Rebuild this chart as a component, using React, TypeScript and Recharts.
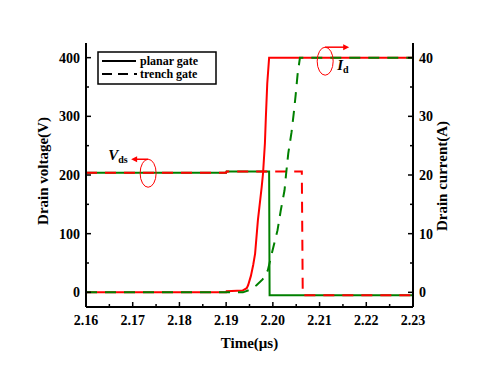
import React from 'react';
import { ComposedChart, Line, XAxis, YAxis, ReferenceDot, Label } from 'recharts';

const FONT = '"Liberation Serif", "Times New Roman", serif';
const RED = '#ff0000';
const GREEN = '#008000';

// Tick values
const xMajorTicks = [2.16, 2.17, 2.18, 2.19, 2.2, 2.21, 2.22, 2.23];
const xMinorTicks = [2.165, 2.175, 2.185, 2.195, 2.205, 2.215, 2.225];
const vMajorTicks = [0, 100, 200, 300, 400];
const vMinorTicks = [50, 150, 250, 350];
const iMajorTicks = [0, 10, 20, 30, 40];
const iMinorTicks = [5, 15, 25, 35];

// Series names
const legendNames = ['planar gate', 'trench gate'];

// Drain voltage, planar gate (V)
const vdsPlanarT = [2.16, 2.19, 2.1901, 2.1992, 2.1993, 2.23];
const vdsPlanarV = [204, 204, 206, 206, -5, -5];
// Drain voltage, trench gate (V)
const vdsTrenchT = [2.16, 2.19, 2.1901, 2.2062, 2.2064, 2.23];
const vdsTrenchV = [204, 204, 206, 206, -5, -5];
// Drain current, planar gate (A)
const idPlanarT = [2.16, 2.19, 2.1901, 2.1935, 2.1944, 2.1947, 2.1953, 2.1958, 2.1962, 2.1968, 2.1976, 2.1979, 2.1983, 2.1985, 2.1988, 2.1992, 2.23];
const idPlanarA = [0, 0, 0.2, 0.3, 0.7, 1.2, 2.8, 4.7, 6.6, 12.3, 17.9, 20.3, 25.4, 29.8, 35.6, 40, 40];
// Drain current, trench gate (A)
const idTrenchT = [2.16, 2.19, 2.1936, 2.195, 2.1965, 2.1978, 2.1989, 2.2001, 2.201, 2.2017, 2.2025, 2.2028, 2.2033, 2.204, 2.2045, 2.2049, 2.2053, 2.2058, 2.23];
const idTrenchA = [0, 0, 0, 0.4, 1.2, 2.2, 3.7, 7.7, 10.6, 14.0, 17.4, 19.9, 23.7, 27.3, 30.7, 33.8, 37.2, 40, 40];

// Annotation anchors
const vdsMarkT = 2.1733;
const vdsMarkV = 203;
const idMarkT = 2.2112;
const idMarkA = 39.4;

const zip = (ts: number[], ys: number[]) => ts.map((t, i) => ({ t, y: ys[i] }));
const vdsPlanar = zip(vdsPlanarT, vdsPlanarV);
const vdsTrench = zip(vdsTrenchT, vdsTrenchV);
const idPlanar = zip(idPlanarT, idPlanarA);
const idTrench = zip(idTrenchT, idTrenchA);

const isIn = (arr: number[], v: number) => arr.some((m) => Math.abs(m - v) < 1e-6);

const tickText = { fontFamily: FONT, fontWeight: 'bold' as const, fontSize: 14, fill: '#000' };

const XTick = (props: any) => {
  const { x, y, payload } = props;
  const v = payload.value;
  const major = isIn(xMajorTicks, v);
  return (
    <g>
      <line x1={x} y1={y} x2={x} y2={y - (major ? 5 : 3)} stroke="#000" strokeWidth={1.5} />
      {major && (
        <text x={x} y={y + 18} textAnchor="middle" {...tickText}>
          {v.toFixed(2)}
        </text>
      )}
    </g>
  );
};

const LeftTick = (props: any) => {
  const { x, y, payload } = props;
  const v = payload.value;
  const major = isIn(vMajorTicks, v);
  return (
    <g>
      <line x1={x} y1={y} x2={x + (major ? 5 : 3)} y2={y} stroke="#000" strokeWidth={1.5} />
      {major && (
        <text x={x - 6} y={y + 5} textAnchor="end" {...tickText}>
          {v}
        </text>
      )}
    </g>
  );
};

const RightTick = (props: any) => {
  const { x, y, payload } = props;
  const v = payload.value;
  const major = isIn(iMajorTicks, v);
  return (
    <g>
      <line x1={x} y1={y} x2={x - (major ? 5 : 3)} y2={y} stroke="#000" strokeWidth={1.5} />
      {major && (
        <text x={x + 6} y={y + 5} textAnchor="start" {...tickText}>
          {v}
        </text>
      )}
    </g>
  );
};

const titleStyle = { fontFamily: FONT, fontWeight: 'bold' as const, fontSize: 15, fill: '#000' };

const VdsMark = (props: any) => {
  const { cx, cy } = props;
  return (
    <g>
      <ellipse cx={cx} cy={cy} rx={8} ry={14} fill="none" stroke={RED} strokeWidth={1} />
      <line x1={cx} y1={cy - 14} x2={cx - 12} y2={cy - 14} stroke={RED} strokeWidth={1.5} />
      <polygon points={`${cx - 17},${cy - 14} ${cx - 11},${cy - 17} ${cx - 11},${cy - 11}`} fill={RED} />
      <text x={cx - 40} y={cy - 13} fontFamily={FONT} fontWeight="bold" fontSize={15} fill="#000">
        <tspan fontStyle="italic">V</tspan>
        <tspan fontSize={10} dy={3}>ds</tspan>
      </text>
    </g>
  );
};

const IdMark = (props: any) => {
  const { cx, cy } = props;
  return (
    <g>
      <ellipse cx={cx} cy={cy} rx={8} ry={14} fill="none" stroke={RED} strokeWidth={1} />
      <line x1={cx} y1={cy - 14} x2={cx + 19} y2={cy - 14} stroke={RED} strokeWidth={1.5} />
      <polygon points={`${cx + 24},${cy - 14} ${cx + 18},${cy - 17} ${cx + 18},${cy - 11}`} fill={RED} />
      <text x={cx + 12} y={cy + 9} fontFamily={FONT} fontWeight="bold" fontSize={15} fill="#000">
        <tspan fontStyle="italic">I</tspan>
        <tspan fontSize={10} dy={3}>d</tspan>
      </text>
    </g>
  );
};

const LeftTitle = (props: any) => {
  const vb = props.viewBox;
  const x = vb.x + 17;
  const y = vb.y + vb.height / 2 - 4;
  return (
    <text x={x} y={y} transform={`rotate(-90, ${x}, ${y})`} textAnchor="middle" dominantBaseline="central" {...titleStyle}>
      Drain voltage(V)
    </text>
  );
};

const RightTitle = (props: any) => {
  const vb = props.viewBox;
  const x = vb.x + 29;
  const y = vb.y + vb.height / 2 + 1;
  return (
    <text x={x} y={y} transform={`rotate(-90, ${x}, ${y})`} textAnchor="middle" dominantBaseline="central" {...titleStyle}>
      Drain current(A)
    </text>
  );
};

const BottomTitle = (props: any) => {
  const vb = props.viewBox;
  return (
    <text x={vb.x + vb.width / 2} y={vb.y + 41} textAnchor="middle" {...titleStyle}>
      Time(μs)
    </text>
  );
};

export default function App() {
  return (
    <div style={{ position: 'absolute', left: 0, top: 0, width: 482, height: 371, background: '#fff' }}>
      <ComposedChart width={482} height={371} margin={{ top: 43, right: 9, bottom: 24, left: 26 }}>
        <XAxis
          dataKey="t"
          type="number"
          domain={[2.16, 2.23]}
          ticks={[...xMajorTicks, ...xMinorTicks]}
          interval={0}
          tick={<XTick />}
          tickLine={false}
          tickSize={0}
          tickMargin={0}
          height={40}
          axisLine={{ stroke: '#000', strokeWidth: 2 }}
          allowDataOverflow
        >
          <Label content={<BottomTitle />} />
        </XAxis>
        <XAxis
          xAxisId="top"
          orientation="top"
          type="number"
          domain={[2.16, 2.23]}
          height={0}
          tick={false}
          tickLine={false}
          axisLine={{ stroke: '#000', strokeWidth: 2 }}
        />
        <YAxis
          yAxisId="left"
          type="number"
          domain={[-25, 425]}
          ticks={[...vMajorTicks, ...vMinorTicks]}
          interval={0}
          tick={<LeftTick />}
          tickLine={false}
          tickSize={0}
          tickMargin={0}
          width={60}
          axisLine={{ stroke: '#000', strokeWidth: 2 }}
          allowDataOverflow
        >
          <Label content={<LeftTitle />} />
        </YAxis>
        <YAxis
          yAxisId="right"
          orientation="right"
          type="number"
          domain={[-2.5, 42.5]}
          ticks={[...iMajorTicks, ...iMinorTicks]}
          interval={0}
          tick={<RightTick />}
          tickLine={false}
          tickSize={0}
          tickMargin={0}
          width={60}
          axisLine={{ stroke: '#000', strokeWidth: 2 }}
          allowDataOverflow
        >
          <Label content={<RightTitle />} />
        </YAxis>

        <Line yAxisId="left" data={vdsPlanar} dataKey="y" name="Vds planar gate" type="linear" stroke={GREEN} strokeWidth={2} dot={false} isAnimationActive={false} />
        <Line yAxisId="right" data={idPlanar} dataKey="y" name="Id planar gate" type="linear" stroke={RED} strokeWidth={2} dot={false} isAnimationActive={false} />
        <Line yAxisId="left" data={vdsTrench} dataKey="y" name="Vds trench gate" type="linear" stroke={RED} strokeWidth={2} strokeDasharray="11 8" dot={false} isAnimationActive={false} />
        <Line yAxisId="right" data={idTrench} dataKey="y" name="Id trench gate" type="linear" stroke={GREEN} strokeWidth={2} strokeDasharray="11 8" dot={false} isAnimationActive={false} />

        <ReferenceDot yAxisId="left" x={vdsMarkT} y={vdsMarkV} r={0} shape={<VdsMark />} />
        <ReferenceDot yAxisId="right" x={idMarkT} y={idMarkA} r={0} shape={<IdMark />} />
      </ComposedChart>
      <svg width={482} height={371} style={{ position: 'absolute', left: 0, top: 0, pointerEvents: 'none' }}>
        <rect x={98} y={52} width={118} height={32} fill="#fff" stroke="#000" strokeWidth={1.5} />
        <line x1={102} y1={61} x2={136} y2={61} stroke="#000" strokeWidth={2} />
        <text x={140} y={65} fontFamily={FONT} fontWeight="bold" fontSize={12} fill="#000">{legendNames[0]}</text>
        <line x1={102} y1={74} x2={137} y2={74} stroke="#000" strokeWidth={2} strokeDasharray="10 6" />
        <text x={140} y={78} fontFamily={FONT} fontWeight="bold" fontSize={12} fill="#000">{legendNames[1]}</text>
      </svg>
    </div>
  );
}
